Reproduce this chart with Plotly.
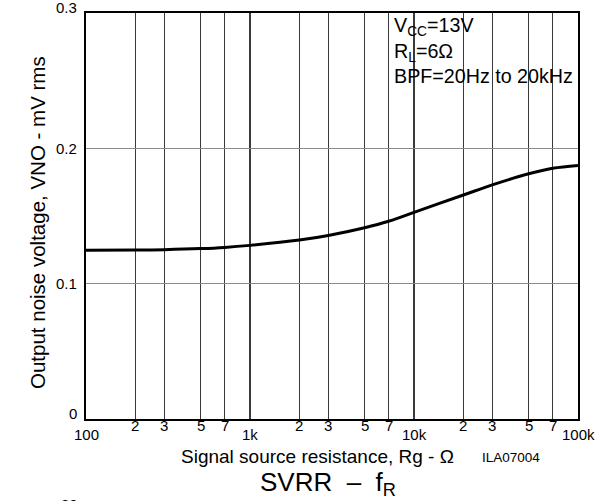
import math
import plotly.graph_objects as go

# ---- data ----
rg_ohm = [100, 200, 300, 500, 700, 1000, 2000, 3000, 5000, 7000,
          10000, 20000, 30000, 50000, 70000, 100000]
vno_mv = [0.1247, 0.1248, 0.1251, 0.1259, 0.1268, 0.1283, 0.1322, 0.1356,
          0.1413, 0.1461, 0.1527, 0.1655, 0.1730, 0.1812, 0.1853, 0.1874]

x_major = [100, 1000, 10000, 100000]
x_major_labels = ["100", "1k", "10k", "100k"]
x_minor = [200, 300, 500, 700, 2000, 3000, 5000, 7000, 20000, 30000, 50000, 70000]
x_minor_labels = ["2", "3", "5", "7", "2", "3", "5", "7", "2", "3", "5", "7"]
y_ticks = [0, 0.1, 0.2, 0.3]
y_tick_labels = ["0", "0.1", "0.2", "0.3"]

FONT = "Liberation Sans, Arial, sans-serif"
W, H = 610, 501
ML, MR, MT, MB = 86, 32, 13, 82
PW, PH = W - ML - MR, H - MT - MB


def px(x):
    return (x - ML) / PW


def py(y):
    return (H - MB - y) / PH


fig = go.Figure()
fig.add_trace(go.Scatter(
    x=rg_ohm, y=vno_mv, mode="lines",
    line=dict(color="black", width=3, shape="spline", smoothing=1.0),
    showlegend=False, hoverinfo="skip"))

fig.update_layout(
    width=W, height=H,
    margin=dict(l=ML, r=MR, t=MT, b=MB, pad=0),
    paper_bgcolor="white", plot_bgcolor="white",
    font=dict(family=FONT, color="black"),
    xaxis=dict(type="log", range=[2, 5], tickmode="array", tickvals=x_major,
               showticklabels=False, ticks="", showgrid=True,
               gridcolor="#3a3a3a", gridwidth=2,
               showline=True, linecolor="black", linewidth=2, mirror=True,
               zeroline=False,
               minor=dict(tickmode="array", tickvals=x_minor, showgrid=True,
                          gridcolor="#3a3a3a", gridwidth=1, ticks="")),
    yaxis=dict(range=[0, 0.3], tickmode="array", tickvals=[0.1, 0.2],
               showticklabels=False, ticks="", showgrid=True,
               gridcolor="#8a8a8a", gridwidth=1,
               showline=True, linecolor="black", linewidth=2, mirror=True,
               zeroline=False),
)

# white background behind the condition text (covers gridlines only)
fig.add_shape(type="rect", xref="paper", yref="paper",
              x0=px(380), x1=px(577), y0=py(88), y1=py(14),
              fillcolor="white", line=dict(width=0), layer="between")

ann = []
# x tick labels
for v, t in zip(x_major, x_major_labels):
    ann.append(dict(x=math.log10(v), xref="x", y=0, yref="paper", text=t,
                    showarrow=False, xanchor="center", yanchor="middle",
                    yshift=-15, font=dict(size=15)))
for v, t in zip(x_minor, x_minor_labels):
    ann.append(dict(x=math.log10(v), xref="x", y=0, yref="paper", text=t,
                    showarrow=False, xanchor="center", yanchor="middle",
                    yshift=-6, font=dict(size=15)))
# y tick labels
for v, t in zip(y_ticks, y_tick_labels):
    shift = 6 if (v == 0 or v == 0.3) else 0
    ann.append(dict(x=0, xref="paper", y=v, yref="y", text=t,
                    showarrow=False, xanchor="right", yanchor="middle",
                    xshift=-7, yshift=shift, font=dict(size=15)))

# axis titles
ann.append(dict(x=px(317), y=py(456), xref="paper", yref="paper",
                text="Signal source resistance, Rg - Ω", showarrow=False,
                xanchor="center", yanchor="middle", font=dict(size=19)))
ann.append(dict(x=px(38), y=py(223), xref="paper", yref="paper",
                text="Output noise voltage, VNO - mV rms", showarrow=False,
                textangle=-90, xanchor="center", yanchor="middle",
                font=dict(size=20.5)))
ann.append(dict(x=px(511), y=py(457), xref="paper", yref="paper",
                text="ILA07004", showarrow=False,
                xanchor="center", yanchor="middle", font=dict(size=13.5)))

# condition text
ann.append(dict(x=px(392), y=py(12), xref="paper", yref="paper",
                text="V<sub>CC</sub>=13V<br>R<sub>L</sub>=6Ω<br>BPF=20Hz to 20kHz",
                showarrow=False, xanchor="left", yanchor="top", align="left",
                font=dict(size=19.7)))

# cropped neighbouring captions
ann.append(dict(x=px(398), y=py(4), xref="paper", yref="paper",
                text="V<sub>NO</sub>\u00a0\u00a0–\u00a0\u00a0Rg", showarrow=False,
                xanchor="right", yanchor="bottom", font=dict(size=25)))
ann.append(dict(x=px(328), y=py(483), xref="paper", yref="paper",
                text="SVRR\u00a0\u00a0–\u00a0\u00a0f<sub>R</sub>", showarrow=False,
                xanchor="center", yanchor="middle", font=dict(size=26)))
ann.append(dict(x=px(69), y=py(494), xref="paper", yref="paper",
                text="80", showarrow=False,
                xanchor="center", yanchor="top", font=dict(size=15)))

fig.update_layout(annotations=ann)
fig.write_html("out.html")
